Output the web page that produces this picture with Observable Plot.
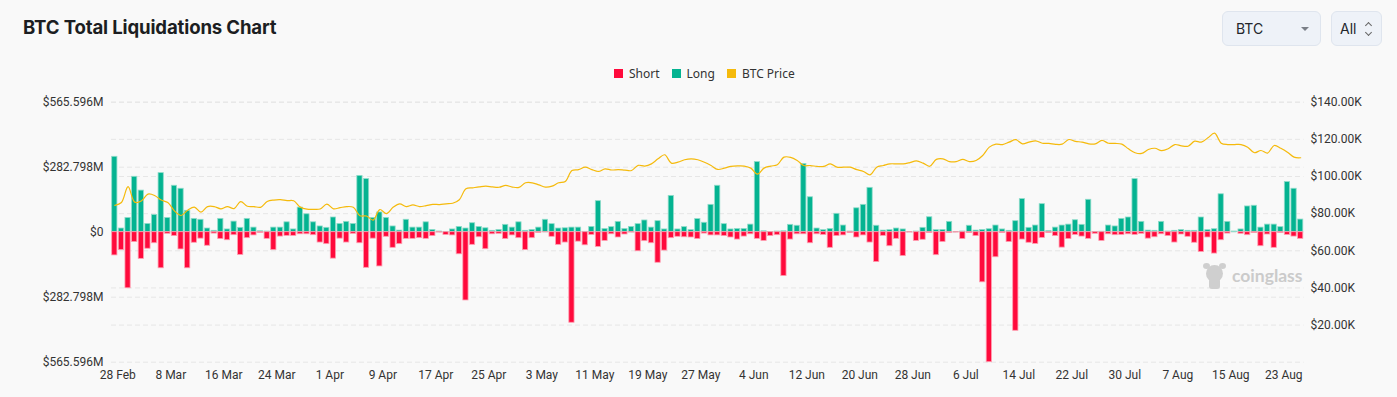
<!DOCTYPE html>
<html><head><meta charset="utf-8">
<script src="https://cdn.jsdelivr.net/npm/d3@7"></script>
<script src="https://cdn.jsdelivr.net/npm/@observablehq/plot@0.6"></script>
<style>
html,body{margin:0;padding:0;background:#f9f9f9;}
#wrap{position:relative;width:1397px;height:397px;overflow:hidden;background:#f9f9f9;font-family:Roboto,"Noto Sans",sans-serif;}
#title{position:absolute;left:23px;top:16px;font:700 18.6px Inter,sans-serif;color:#1c1e22;letter-spacing:-0.15px;white-space:nowrap;}
.sel{position:absolute;top:11px;height:35px;background:#eef2f8;border:1px solid #dfe5ee;border-radius:6px;box-sizing:border-box;font:14px Inter,Roboto,sans-serif;color:#23262b;}
.sel span{position:absolute;top:8px;}
#legend{position:absolute;top:65px;left:614px;display:flex;align-items:center;font:12px "Noto Sans",Roboto,sans-serif;color:#333;white-space:nowrap;}
#legend .sw{display:inline-block;width:9px;height:9px;margin-right:6px;}
#legend .it{display:flex;align-items:center;margin-right:12px;}
#chart{position:absolute;left:0;top:90px;}
#wm{position:absolute;left:1203px;top:262px;display:flex;align-items:center;color:#cbcbcb;font:700 17.5px Lato,sans-serif;}
</style></head>
<body><div id="wrap">
<div id="title">BTC Total Liquidations Chart</div>
<div class="sel" style="left:1222px;width:99px;"><span style="left:13px;">BTC</span>
  <div style="position:absolute;left:78px;top:15px;width:0;height:0;border-left:4px solid transparent;border-right:4px solid transparent;border-top:4px solid #7a7f87;"></div></div>
<div class="sel" style="left:1331px;width:51px;"><span style="left:8px;">All</span>
  <div style="position:absolute;left:34px;top:11px;width:4px;height:4px;border-top:1.3px solid #666;border-left:1.3px solid #666;transform:rotate(45deg);"></div>
  <div style="position:absolute;left:34px;top:18px;width:4px;height:4px;border-bottom:1.3px solid #666;border-right:1.3px solid #666;transform:rotate(45deg);"></div></div>
<div id="legend"></div>
<div id="chart"></div>
<div id="wm"><div style="position:relative;width:23px;height:27px;margin-right:6px;">
  <div style="position:absolute;left:3px;top:3px;width:17px;height:17px;border-radius:50%;background:#cfcfcf;"></div>
  <div style="position:absolute;left:0px;top:1px;width:7px;height:6px;border-radius:50%;background:#cfcfcf;"></div>
  <div style="position:absolute;left:16px;top:1px;width:7px;height:6px;border-radius:50%;background:#cfcfcf;"></div>
  <div style="position:absolute;left:6px;top:16px;width:11px;height:11px;border-radius:3px;background:#cfcfcf;"></div></div>coinglass</div>
</div>
<script>
// ---- data ----
const startDate = "2025-02-28";
const longM = [328,16,62,241,181,36,75,257,62,202,189,93,58,54,16,6,58,12,46,19,
58,20,4,3,20,20,43,12,107,78,43,25,19,64,36,45,36,245,231,62,
86,62,25,7,54,20,20,43,10,3,0.5,12,23,16,39,23,17,6,10,32,
20,43,6,10,20,54,35,16,17,20,20,1.5,23,135,14,22,45,14,23,35,
51,20,48,12,158,12,22,9,57,41,119,202,35,12,14,14,33,305,4,0.5,
3,4,32,28,297,152,16,9,14,80,29,3,104,119,193,28,7,9,16,12,
0.3,3,19,65,9,10,45,0.3,3,28,7,10,13,29,12,6,48,144,19,29,
122,5,20,29,33,52,32,141,0.5,2,29,25,58,64,231,45,7,6,45,3,
6,10,6,6,64,9,13,165,45,3,12,112,115,20,33,33,22,218,189,55];
const shortM = [101,78,244,43,116,72,48,157,7,17,75,157,46,28,59,6,30,35,13,99,
26,14,3,29,78,19,16,16,9,9,13,45,52,115,28,45,7,48,155,28,
149,20,68,52,29,29,26,29,17,1.5,12,14,96,297,55,22,74,9,7,30,
14,26,78,26,3,0.5,20,55,45,394,41,57,12,64,38,9,23,10,1.5,83,
39,48,133,80,26,20,22,23,30,6,14,14,17,23,32,19,9,29,38,17,
13,191,32,9,9,48,9,12,68,17,14,4,23,14,45,130,16,61,29,104,
1.5,38,33,4,100,43,4,1.5,30,4,17,218,565.6,109,4,43,429,32,46,51,
25,4,17,67,30,12,19,29,7,38,9,13,12,9,12,7,28,22,9,17,
45,10,20,46,86,23,93,35,6,0,7,13,4,61,10,68,4,12,19,29];
const priceK = [84.4,86.0,94.5,86.2,86.8,90.5,89.8,87.3,86.0,81.5,79.0,81.8,83.5,80.8,83.8,83.8,82.6,83.8,82.7,86.5,
84.0,83.8,83.4,86.5,87.3,87.5,87.0,86.9,83.5,82.4,82.3,82.5,85.1,82.6,83.2,83.8,83.4,78.9,78.7,76.5,
82.2,80.0,83.4,85.3,83.8,84.7,83.8,84.3,85.0,84.9,85.3,85.6,87.5,93.4,93.9,94.4,94.8,94.4,94.2,95.2,
94.3,94.1,96.6,96.6,95.5,94.3,94.8,96.6,97.3,103.2,103.7,105.0,103.7,102.7,104.1,103.5,103.7,103.4,103.2,106.0,
105.6,106.8,109.5,111.7,107.2,107.7,109.0,109.5,109.0,107.7,105.9,103.8,104.5,105.4,105.7,105.6,104.5,101.3,104.5,105.6,
106.3,110.4,110.3,108.6,105.9,105.9,105.4,105.4,106.8,105.0,105.0,105.0,103.7,102.7,100.9,105.0,105.9,106.8,106.8,106.8,
107.5,108.4,107.2,105.5,109.2,109.5,108.0,108.0,109.2,108.0,108.6,111.3,115.8,117.4,117.2,118.5,119.8,117.6,118.5,119.2,
117.9,117.8,117.3,117.4,119.9,118.9,118.5,117.6,117.6,119.4,117.9,117.8,117.4,114.9,112.8,112.4,114.5,115.2,113.9,114.9,
117.2,116.5,116.3,119.0,118.5,120.8,123.3,117.9,117.2,117.2,117.2,115.8,112.8,114.0,112.6,116.7,115.2,113.1,110.4,110.1];
const xTickLabels = ["28 Feb","8 Mar","16 Mar","24 Mar","1 Apr","9 Apr","17 Apr","25 Apr","3 May","11 May","19 May","27 May",
"4 Jun","12 Jun","20 Jun","28 Jun","6 Jul","14 Jul","22 Jul","30 Jul","7 Aug","15 Aug","23 Aug"];
const leftTickValues = [565.596,282.798,0,-282.798,-565.596];
const leftTickLabels = ["$565.596M","$282.798M","$0","$282.798M","$565.596M"];
const rightTickPrices = [140000,120000,100000,80000,60000,40000,20000];
const rightTickLabels = ["$140.00K","$120.00K","$100.00K","$80.00K","$60.00K","$40.00K","$20.00K"];
const seriesNames = ["Short","Long","BTC Price"];
const seriesColors = ["#ff0a3c","#04b391","#f5ba0c"];

// ---- build ----
const t0 = new Date(startDate + "T00:00:00Z");
const days = longM.map((_, i) => d3.utcDay.offset(t0, i));
const rows = days.map((d, i) => ({date: d, end: d3.utcDay.offset(d, 1), mid: d3.utcHour.offset(d, 12),
  long: longM[i], short: -shortM[i], price: priceK[i] * 1000}));
const priceToY = d3.scaleLinear().domain([0, 140000]).range([-565.596, 565.596]);
const rightTickY = rightTickPrices.map(p => priceToY(p));
const xTicks = xTickLabels.map((_, k) => d3.utcHour.offset(d3.utcDay.offset(t0, 8 * k), 12));
const xLabelMap = new Map(xTicks.map((d, k) => [+d, xTickLabels[k]]));

const legend = document.getElementById("legend");
seriesNames.forEach((n, i) => {
  const it = document.createElement("div"); it.className = "it";
  it.innerHTML = `<span class="sw" style="background:${seriesColors[i]}"></span>${n}`;
  legend.appendChild(it);
});

const chart = Plot.plot({
  width: 1397, height: 307,
  marginTop: 11.7, marginBottom: 35.3, marginLeft: 111, marginRight: 93.5,
  style: {fontSize: "12px", fontFamily: "Roboto, sans-serif", color: "#333", background: "transparent", overflow: "visible"},
  x: {type: "utc", domain: [t0, d3.utcDay.offset(t0, longM.length)]},
  y: {domain: [-565.596, 565.596]},
  marks: [
    Plot.ruleY(leftTickValues, {stroke: "#e6e6e6", strokeDasharray: "5,3"}),
    Plot.ruleY(rightTickY, {stroke: "#e6e6e6", strokeDasharray: "5,3"}),
    Plot.rectY(rows, {x1: "date", x2: "end", y1: 0, y2: "long", fill: seriesColors[1], stroke: "#8fdcca", strokeWidth: 0.8, insetLeft: 0.7, insetRight: 0.7}),
    Plot.rectY(rows, {x1: "date", x2: "end", y1: 0, y2: "short", fill: seriesColors[0], stroke: "#ff9db0", strokeWidth: 0.8, insetLeft: 0.7, insetRight: 0.7}),
    Plot.line(rows, {x: "mid", y: d => priceToY(d.price), stroke: seriesColors[2], strokeWidth: 1.2, curve: "catmull-rom"}),
    Plot.axisY(leftTickValues, {anchor: "left", tickSize: 0, tickPadding: 8, tickFormat: (v) => leftTickLabels[leftTickValues.indexOf(v)], fill: "#333"}),
    Plot.axisY(rightTickY, {anchor: "right", tickSize: 0, tickPadding: 6.5, tickFormat: (v) => rightTickLabels[rightTickY.indexOf(v)], fill: "#333"}),
    Plot.axisX(xTicks, {anchor: "bottom", tickSize: 0, tickPadding: 8, dx: 3, tickFormat: d => xLabelMap.get(+d), fill: "#333"})
  ]
});
document.getElementById("chart").appendChild(chart);
</script>
</body></html>
